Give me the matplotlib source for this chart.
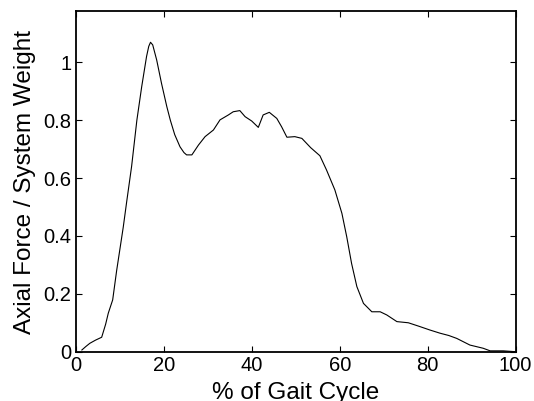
import numpy as np
import matplotlib
matplotlib.use("Agg")
import matplotlib.pyplot as plt

# ---- data ----
gait_pct = [1.4, 2.3, 3.2, 4.5, 5.9, 6.8, 7.4, 8.4, 9.3, 10.0, 10.8, 11.6, 12.7, 13.9, 15.0,
            16.1, 16.6, 17.0, 17.5, 18.4, 19.5, 20.7, 21.5, 22.5, 23.7, 24.6, 25.2, 26.4, 27.9,
            29.4, 31.3, 32.8, 34.7, 35.8, 37.3, 38.5, 40.0, 41.5, 42.6, 44.0, 45.7, 46.8,
            48.0, 49.8, 51.4, 53.4, 55.5, 57.0, 58.9, 60.5, 61.6, 62.7, 63.9, 65.4, 67.3,
            69.2, 70.7, 73.0, 75.6, 78.0, 80.5, 82.8, 84.8, 86.6, 89.6, 92.6, 94.2, 97.2, 100.0]
axial_force = [0.006, 0.018, 0.029, 0.040, 0.050, 0.095, 0.133, 0.179, 0.28, 0.35, 0.43, 0.52,
               0.64, 0.80, 0.916, 1.02, 1.055, 1.069, 1.060, 1.008, 0.927, 0.847, 0.800, 0.750,
               0.708, 0.688, 0.680, 0.680, 0.714, 0.743, 0.766, 0.801, 0.818, 0.829, 0.833, 0.812,
               0.797, 0.775, 0.818, 0.827, 0.806, 0.777, 0.741, 0.743, 0.737, 0.705, 0.677,
               0.628, 0.559, 0.478, 0.397, 0.305, 0.225, 0.167, 0.138, 0.138, 0.127, 0.104,
               0.100, 0.088, 0.075, 0.064, 0.056, 0.046, 0.023, 0.012, 0.003, 0.003, 0.0]

plt.rcParams["font.family"] = ["Liberation Sans", "DejaVu Sans"]

fig = plt.figure(figsize=(5.34, 4.01), dpi=100)
ax = fig.add_axes([0.1418, 0.1229, 0.8239, 0.8489])
ax.plot(gait_pct, axial_force, color="black", lw=0.8)

ax.set_xlim(0, 100)
ax.set_ylim(0, 1.176)
ax.set_xticks(np.arange(0, 101, 20))
ax.set_yticks([0, 0.2, 0.4, 0.6, 0.8, 1])
ax.set_yticklabels(["0", "0.2", "0.4", "0.6", "0.8", "1"])
ax.tick_params(direction="in", top=True, right=True, length=4, width=0.8,
               labelsize=14.5, pad=3)
for s in ax.spines.values():
    s.set_linewidth(1.3)
ax.set_xlabel("% of Gait Cycle", fontsize=17.5, labelpad=5)
ax.set_ylabel("Axial Force / System Weight", fontsize=17.5, labelpad=5.5)

fig.savefig("out.png", dpi=100)
